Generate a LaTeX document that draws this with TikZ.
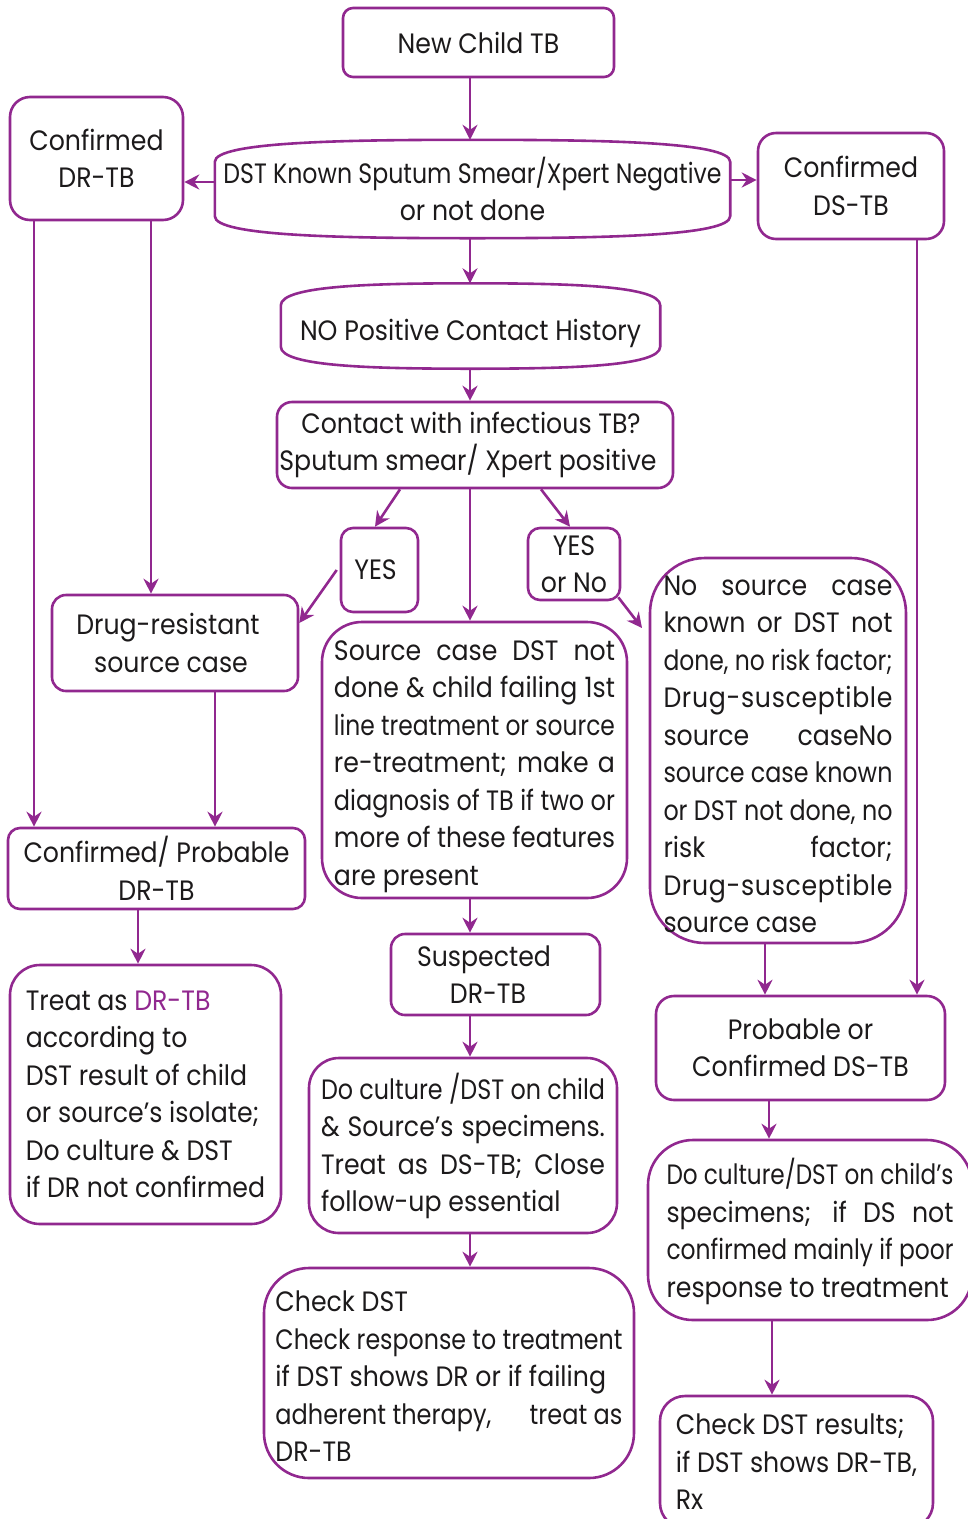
\documentclass[tikz,border=0pt]{standalone}
\usepackage{fontspec}
\usepackage{graphicx}
\setmainfont{Poppins}[FakeStretch=0.9]
\usetikzlibrary{arrows.meta,calc}
\definecolor{plum}{RGB}{145,40,143}
\definecolor{ink}{RGB}{28,26,27}
% width of the lines of the current paragraph box
\newlength\jw
% one justified line, stretched (or squeezed) to \jw
\newcommand\jl[1]{{\spaceskip=\fontdimen2\font plus 1fil minus .3\fontdimen2\font\relax
  \setbox0=\hbox{#1}\ifdim\wd0>\jw\resizebox{\jw}{\height}{#1}\else\makebox[\jw][s]{#1}\fi}}
% one left-aligned line of width \jw
\newcommand\lf[1]{\setbox0=\hbox{#1}\ifdim\wd0>\jw\resizebox{\jw}{\height}{#1}\else\makebox[\jw][l]{#1}\fi}
% text squeezed to at most the given width
\newcommand\fitto[2]{\setbox0=\hbox{#2}\ifdim\wd0>#1\resizebox{#1}{\height}{#2}\else\box0\fi}
% a line of letters spread evenly over \jw
\newcommand\spreadline{\makebox[\jw][s]{D\hfill r\hfill u\hfill g\hfill -\hfill s\hfill u\hfill s\hfill c\hfill e\hfill p\hfill t\hfill i\hfill b\hfill l\hfill e}}
% invisible strut that pushes a paragraph block slightly down
\newcommand\topstrut[1]{\rule{0pt}{#1}}
% box with slightly bowed top and bottom edges, drawn round a node
\newcommand\bowedbox[1]{%
  \draw[edge] ($(#1.north west)+(0,22)$)
    .. controls ($(#1.north west)+(0,2)$) and ($(#1.north west)!0.5!(#1.north)$) .. (#1.north)
    .. controls ($(#1.north east)!0.5!(#1.north)$) and ($(#1.north east)+(0,2)$) .. ($(#1.north east)+(0,22)$)
    -- ($(#1.south east)+(0,-22)$)
    .. controls ($(#1.south east)+(0,-2)$) and ($(#1.south east)!0.5!(#1.south)$) .. (#1.south)
    .. controls ($(#1.south west)!0.5!(#1.south)$) and ($(#1.south west)+(0,-2)$) .. ($(#1.south west)+(0,-22)$)
    -- cycle;}
\begin{document}
\begin{tikzpicture}[x=1pt,y=-1pt,
  every node/.style={font=\fontsize{28}{37.5}\selectfont, text=ink, inner sep=0pt},
  box/.style={draw=plum, line width=2.6pt, rounded corners=#1, align=center},
  box/.default=12pt,
  para/.style={box=#1, align=left},
  edge/.style={draw=plum, line width=2.6pt},
  conn/.style={draw=plum, line width=2.6pt, -{Stealth[length=15pt,width=15pt,inset=5pt]}}
]
\useasboundingbox (0,0) rectangle (968,1519);
\clip (0,0) rectangle (968,1519);

% ---- top of the chart
\node[box=10pt, minimum width=271, minimum height=69] (newtb) at (478.5,42.5) {New Child TB};
\node[minimum width=515, minimum height=98, align=center] (dst) at (472.5,189)
  {\fitto{498pt}{DST Known Sputum Smear/Xpert Negative}\\or not done};
\bowedbox{dst}
\node[box=20pt, minimum width=173, minimum height=123] (cdr) at (96.5,158.5) {Confirmed\\DR-TB};
\node[box=18pt, minimum width=186, minimum height=106] (cds) at (851,186) {Confirmed\\DS-TB};
\node[minimum width=379, minimum height=85] (nopos) at (470.5,326)
  {\raisebox{-7pt}[\height][\depth]{NO Positive Contact History}};
\bowedbox{nopos}
\node[box=15pt, minimum width=396, minimum height=86] (contact) at (475,445)
  {Contact with infectious TB?\hspace*{8pt}\\Sputum smear/ Xpert positive\hspace*{14pt}};
\node[box=12pt, minimum width=77, minimum height=84] (yes) at (379.5,570) {YES\hspace*{8pt}};
\node[box=12pt, minimum width=92, minimum height=72] (yesno) at (574,564) {YES\\or No};

% ---- drug-resistant branch
\node[box=14pt, minimum width=246, minimum height=96] (drs) at (175,643)
  {Drug-resistant\hspace*{14pt}\\source case\hspace*{8pt}};
\node[box=12pt, minimum width=297, minimum height=81] (cpdr) at (156.5,868.5) {Confirmed/ Probable\\DR-TB};
\node[para=30pt, minimum width=271, minimum height=259] (treat) at (145.5,1094.5)
  {Treat as \textcolor{plum}{DR-TB}\\according to\\DST result of child\\or source’s isolate;\\Do culture \& DST\\if DR not confirmed};

% ---- middle branch
\node[para=40pt, minimum width=305, minimum height=276] (src) at (474.5,760)
  {\global\jw=281pt\topstrut{33pt}\jl{Source case DST not}\\\jl{done \& child failing 1st}\\\jl{line treatment or source}\\
   \jl{re-treatment; make a}\\\jl{diagnosis of TB if two or}\\\jl{more of these features}\\\lf{are present}};
\node[box=14pt, minimum width=209, minimum height=81] (susp) at (495.5,974.5)
  {Suspected\hspace*{23pt}\\DR-TB\hspace*{15pt}};
\node[para=30pt, minimum width=308, minimum height=175] (dcul) at (463,1145.5)
  {\global\jw=284pt\topstrut{27pt}\jl{Do culture /DST on child}\\\jl{\& Source’s specimens.}\\\jl{Treat as DS-TB; Close}\\\lf{follow-up essential}};
\node[para=45pt, minimum width=370, minimum height=210] (chk) at (449,1373)
  {\global\jw=347pt\topstrut{27pt}\lf{Check DST}\\\jl{Check response to treatment}\\\lf{if DST shows DR or if failing}\\\jl{adherent therapy,\hspace{1.2em} treat as}\\\lf{DR-TB}};

% ---- drug-susceptible branch
\node[para=55pt, minimum width=256, minimum height=385] (nosrc) at (778,750.5)
  {\global\jw=229pt\topstrut{27pt}\jl{No source case}\\\jl{known or DST not}\\\jl{done, no risk factor;}\\\spreadline\\\jl{source caseNo}\\
   \jl{source case known}\\\jl{or DST not done, no}\\\jl{risk factor;}\\\spreadline\\\lf{source case}};
\node[box=18pt, minimum width=289, minimum height=104] (pds) at (800.5,1048) {Probable or\\Confirmed DS-TB};
\node[para=45pt, minimum width=324, minimum height=180] (dcc) at (810,1230)
  {\global\jw=287pt\topstrut{29pt}\jl{Do culture/DST on child’s}\\\jl{specimens; if DS not}\\\jl{confirmed mainly if poor}\\\lf{response to treatment}};
\node[para=25pt, minimum width=273, minimum height=132] (chr) at (796.5,1462)
  {Check DST results;\\if DST shows DR-TB,\\Rx};

% ---- connectors
\coordinate (cx) at (470,0);
\coordinate (nsa) at (642,628);
\draw[conn] (newtb.south -| cx) -- (dst.north -| cx);
\draw[conn] ([yshift=7pt]dst.west) -- ([yshift=7pt]dst.west -| cdr.east);
\draw[conn] ([yshift=9pt]dst.east) -- ([yshift=9pt]dst.east -| cds.west);
\draw[conn] (dst.south -| cx) -- (nopos.north -| cx);
\draw[conn] (nopos.south -| cx) -- (contact.north -| cx);
\draw[conn] (contact.south -| 400,0) -- (yes.north -| 375,0);
\draw[conn] (contact.south -| cx) -- (src.north -| cx);
\draw[conn] (contact.south -| 541,0) -- (yesno.north -| 570,0);
\draw[conn] ([xshift=-3pt]yes.west) -- ([yshift=20pt]drs.east);
\draw[conn] ([xshift=-3pt,yshift=4pt]yesno.south east) -- (nsa);
\draw[conn] (cdr.south -| 34,0) -- (cpdr.north -| 34,0);
\draw[conn] (cdr.south -| 151,0) -- (drs.north -| 151,0);
\draw[conn] (drs.south -| 215,0) -- (cpdr.north -| 215,0);
\draw[conn] (cpdr.south -| 138,0) -- (treat.north -| 138,0);
\draw[conn] (src.south -| cx) -- (susp.north -| cx);
\draw[conn] (susp.south -| cx) -- (dcul.north -| cx);
\draw[conn] (dcul.south -| cx) -- (chk.north -| cx);
\draw[conn] (nosrc.south -| 765,0) -- (pds.north -| 765,0);
\draw[conn] (cds.south -| 917,0) -- (pds.north -| 917,0);
\draw[conn] (pds.south -| 769,0) -- (dcc.north -| 769,0);
\draw[conn] (dcc.south -| 772,0) -- (chr.north -| 772,0);
\end{tikzpicture}
\end{document}
